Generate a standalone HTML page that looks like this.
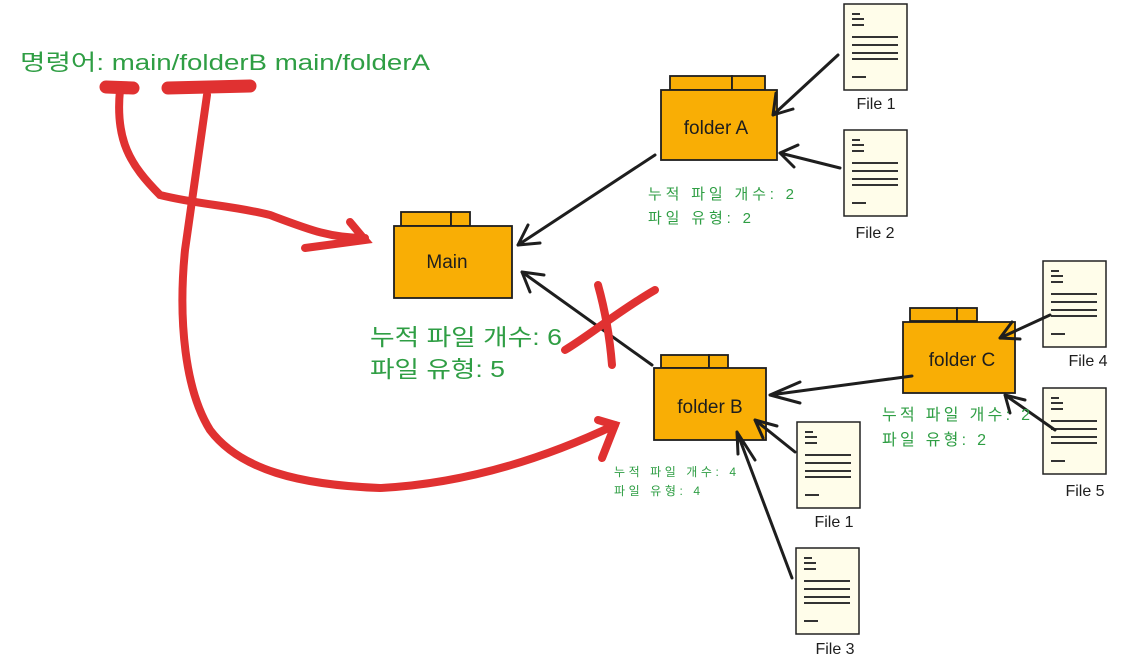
<!DOCTYPE html>
<html><head><meta charset="utf-8"><style>
body{margin:0;background:#fff;width:1137px;height:657px;overflow:hidden}
text{font-family:"Liberation Sans","Noto Sans CJK KR",sans-serif}
</style></head><body>
<svg width="1137" height="657" viewBox="0 0 1137 657" xmlns="http://www.w3.org/2000/svg">
<defs>
<g id="doc"><rect x="0" y="0" width="63" height="86" fill="#fffdea" stroke="#222" stroke-width="1.5"/>
<g stroke="#333" stroke-width="2"><line x1="8" y1="10" x2="16" y2="10"/><line x1="8" y1="15" x2="20" y2="15"/><line x1="8" y1="21" x2="20" y2="21"/><line x1="8" y1="33" x2="54" y2="33"/><line x1="8" y1="41" x2="54" y2="41"/><line x1="8" y1="49" x2="54" y2="49"/><line x1="8" y1="55" x2="54" y2="55"/><line x1="8" y1="73" x2="22" y2="73"/></g></g>
</defs>
<g fill="#f9ae05" stroke="#1e1e1e" stroke-width="1.8">
<rect x="401" y="212" width="50" height="14"/><rect x="451" y="212" width="19" height="14"/><rect x="394" y="226" width="118" height="72"/>
<rect x="670" y="76" width="62" height="14"/><rect x="732" y="76" width="33" height="14"/><rect x="661" y="90" width="116" height="70"/>
<rect x="661" y="355" width="48" height="13"/><rect x="709" y="355" width="19" height="13"/><rect x="654" y="368" width="112" height="72"/>
<rect x="910" y="308" width="47" height="13"/><rect x="957" y="308" width="20" height="13"/><rect x="903" y="322" width="112" height="71"/>
</g>
<g font-size="19" fill="#1e1e1e" text-anchor="middle">
<text x="447" y="268">Main</text><text x="716" y="134">folder A</text><text x="710" y="413">folder B</text><text x="962" y="366">folder C</text>
</g>
<use href="#doc" x="844" y="4"/><use href="#doc" x="844" y="130"/><use href="#doc" x="1043" y="261"/><use href="#doc" x="1043" y="388"/><use href="#doc" x="797" y="422"/><use href="#doc" x="796" y="548"/>
<g font-size="16" fill="#1e1e1e" text-anchor="middle">
<text x="876" y="109">File 1</text><text x="875" y="238">File 2</text><text x="1088" y="366">File 4</text><text x="1085" y="496">File 5</text><text x="834" y="527">File 1</text><text x="835" y="654">File 3</text>
</g>
<g stroke="#1e1e1e" stroke-width="3" fill="none" stroke-linecap="round">
<path d="M838 55 L773 115 M773 115 l3 -22 M773 115 l20 -6"/>
<path d="M840 168 L780 153 M780 153 l18 -8 M780 153 l14 14"/>
<path d="M655 155 L518 245 M518 245 l10 -20 M518 245 l22 -2"/>
<path d="M652 365 L522 272 M522 272 l22 3 M522 272 l8 20"/>
<path d="M912 376 L770 395 M770 395 l30 -13 M770 395 l30 8"/>
<path d="M1050 315 L1000 338 M1000 338 l12 -16 M1000 338 l20 1"/>
<path d="M1055 430 L1005 395 M1005 395 l20 5 M1005 395 l5 18"/>
<path d="M795 452 L755 420 M755 420 l22 6 M755 420 l8 18"/>
<path d="M792 578 L737 432 M737 432 l1 22 M737 432 l18 28"/>
</g>
<g stroke="#e03131" stroke-width="8" fill="none" stroke-linecap="round">
<path d="M106 87 L133 88" stroke-width="13"/><path d="M168 88 L250 86" stroke-width="13"/>
<path d="M120 90 C115 140 130 165 160 195 C200 205 230 205 270 215 C310 230 330 238 365 238"/>
<path d="M350 222 L365 240 L305 248"/>
<path d="M207 95 L185 250 C178 320 185 390 210 430 C240 470 300 485 380 488 C440 485 520 470 615 425"/>
<path d="M598 420 L615 425 L602 458"/>
<path d="M598 285 C605 310 610 340 612 365"/><path d="M655 290 C620 310 590 335 565 350"/>
</g>
<g fill="#2f9e44">
<text x="20" y="70" font-size="22" textLength="410" lengthAdjust="spacingAndGlyphs">명령어: main/folderB main/folderA</text>
<text x="370" y="345" font-size="23" textLength="192" lengthAdjust="spacingAndGlyphs">누적 파일 개수: 6</text><text x="370" y="377" font-size="23" textLength="135" lengthAdjust="spacingAndGlyphs">파일 유형: 5</text>
<text x="648" y="199" font-size="15" textLength="146">누적 파일 개수: 2</text><text x="648" y="223" font-size="15" textLength="103">파일 유형: 2</text>
<text x="614" y="476" font-size="12" textLength="122">누적 파일 개수: 4</text><text x="614" y="495" font-size="12" textLength="86">파일 유형: 4</text>
<text x="882" y="420" font-size="16" textLength="148">누적 파일 개수: 2</text><text x="882" y="445" font-size="16" textLength="104">파일 유형: 2</text>
</g>
</svg>
</body></html>
